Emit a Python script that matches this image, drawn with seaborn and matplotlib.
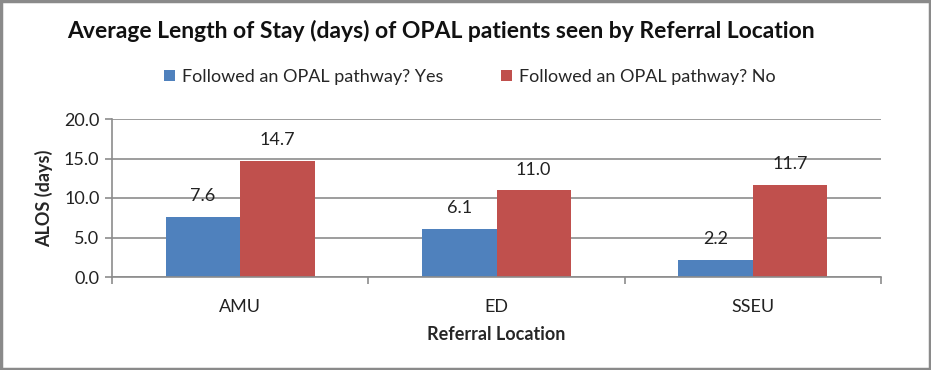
import matplotlib
matplotlib.use("Agg")
import matplotlib.pyplot as plt
import seaborn as sns
import pandas as pd
from matplotlib.patches import Rectangle

categories = ["AMU", "ED", "SSEU"]
series_names = ["Followed an OPAL pathway? Yes", "Followed an OPAL pathway? No"]
yes_values = [7.6, 6.1, 2.2]
no_values = [14.7, 11.0, 11.7]
yticks = [0.0, 5.0, 10.0, 15.0, 20.0]

df = pd.DataFrame({
    "Referral Location": categories * 2,
    "ALOS": yes_values + no_values,
    "Series": [series_names[0]] * 3 + [series_names[1]] * 3,
})

sns.set_theme(style="white")
plt.rcParams["font.family"] = ["Lato", "DejaVu Sans"]

fig = plt.figure(figsize=(9.31, 3.70), dpi=100)
ax = fig.add_axes([112 / 931, 1 - 277 / 370, (881 - 112) / 931, (277 - 119) / 370])

palette = {series_names[0]: "#4F81BD", series_names[1]: "#C0504D"}
sns.barplot(data=df, x="Referral Location", y="ALOS", hue="Series", palette=palette,
            width=0.58, ax=ax, saturation=1, edgecolor="none", linewidth=0, legend=True)

ax.set_ylim(0, 20)
ax.set_yticks(yticks)
ax.set_yticklabels([f"{v:.1f}" for v in yticks], fontsize=13, color="#222222")
ax.set_xlim(-0.5, 2.5)
ax.yaxis.grid(True, color="#8c8c8c", linewidth=1.2)
ax.set_axisbelow(True)
for s in ["top", "right"]:
    ax.spines[s].set_visible(False)
for s in ["left", "bottom"]:
    ax.spines[s].set_color("#8c8c8c")
    ax.spines[s].set_linewidth(1.2)

ax.set_xticks([0, 1, 2])
ax.set_xticklabels(categories, fontsize=13, color="#222222")
ax.tick_params(axis="x", length=0, pad=16)
ax.set_xticks([-0.5, 0.5, 1.5, 2.5], minor=True)
ax.tick_params(axis="x", which="minor", length=5, color="#8c8c8c", width=1.2, direction="out", bottom=True)
ax.tick_params(axis="y", length=5, color="#8c8c8c", width=1.2, direction="out", left=True, pad=4)

ax.set_xlabel("Referral Location", fontsize=13, fontweight="bold", labelpad=8)
ax.set_ylabel("ALOS (days)", fontsize=13, fontweight="bold", labelpad=8)

for cont in ax.containers:
    ax.bar_label(cont, fmt="%.1f", padding=9, fontsize=13, color="#222222")

handles, labels = ax.get_legend_handles_labels()
ax.legend_.remove()
fig.legend(handles, labels, loc="center", bbox_to_anchor=(0.505, 1 - 77 / 370), ncol=2,
           frameon=False, fontsize=13, handlelength=0.6, handleheight=0.6,
           handletextpad=0.4, columnspacing=3.2)

fig.text(0.474, 1 - 31 / 370, "Average Length of Stay (days) of OPAL patients seen by Referral Location",
         ha="center", va="center", fontsize=16.5, fontweight="bold", color="#111111")

fig.patches.append(Rectangle((0.0015, 0.003), 0.997, 0.994, transform=fig.transFigure,
                             fill=False, edgecolor="#8a8a8a", linewidth=2.5))

fig.savefig("out.png", dpi=100, facecolor="white")
